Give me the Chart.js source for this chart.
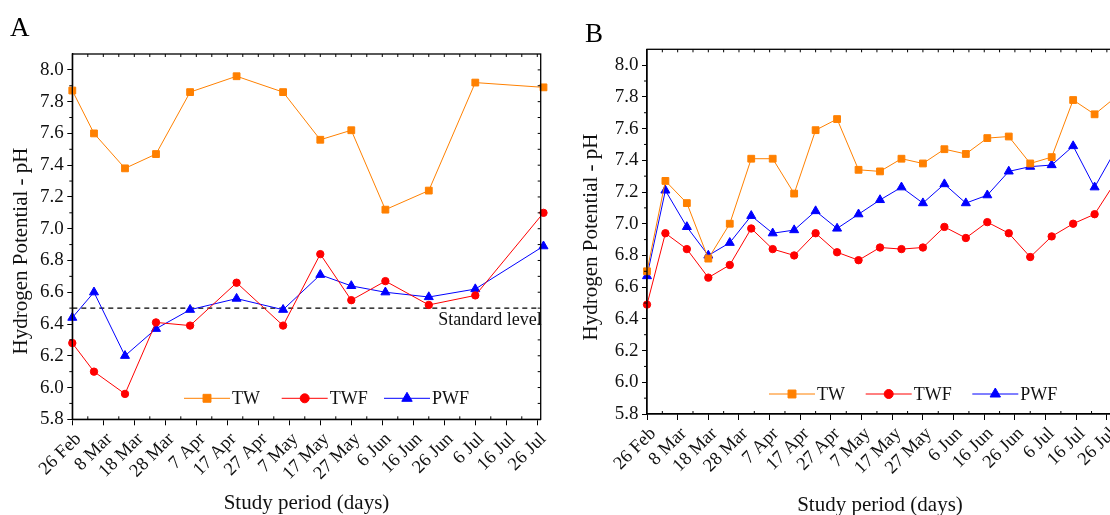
<!DOCTYPE html>
<html><head><meta charset="utf-8">
<script src="https://cdn.jsdelivr.net/npm/chart.js@4.4.1/dist/chart.umd.min.js"></script>
<style>
html,body{margin:0;padding:0;background:#fff;overflow:hidden;width:1110px;height:515px;position:relative;}
.p{position:absolute;top:0;height:515px;}
#wa{left:0;}
#wb{left:565px;}
</style></head><body>
<div class="p" id="wa"><canvas id="ca" width="560" height="515"></canvas></div>
<div class="p" id="wb"><canvas id="cb" width="566" height="515"></canvas></div>
<script>
// ---------- data ----------
const dateTickLabels = ['26 Feb','8 Mar','18 Mar','28 Mar','7 Apr','17 Apr','27 Apr','7 May','17 May','27 May','6 Jun','16 Jun','26 Jun','6 Jul','16 Jul','26 Jul'];
const xTickDays = [0,10,20,30,40,50,60,70,80,90,100,110,120,130,140,150];
const yTicks = [5.8,6.0,6.2,6.4,6.6,6.8,7.0,7.2,7.4,7.6,7.8,8.0];
const yMin = 5.8, yMax = 8.1;
const standardLevel = 6.5;

// Panel A (days after 26 Feb)
const aDays = [0,7,17,27,38,53,68,80,90,101,115,130,152];
const aTW  = [7.87,7.60,7.38,7.47,7.86,7.96,7.86,7.56,7.62,7.12,7.24,7.92,7.89];
const aTWF = [6.28,6.10,5.96,6.41,6.39,6.66,6.39,6.84,6.55,6.67,6.52,6.58,7.10];
const aPWF = [6.44,6.60,6.20,6.37,6.49,6.56,6.49,6.71,6.64,6.60,6.57,6.62,6.89];

// Panel B (days after 26 Feb)
const bDays = [0,6,13,20,27,34,41,48,55,62,69,76,83,90,97,104,111,118,125,132,139,146,153];
const bTW  = [6.70,7.27,7.13,6.78,7.00,7.41,7.41,7.19,7.59,7.66,7.34,7.33,7.41,7.38,7.47,7.44,7.54,7.55,7.38,7.42,7.78,7.69,7.80];
const bTWF = [6.49,6.94,6.84,6.66,6.74,6.97,6.84,6.80,6.94,6.82,6.77,6.85,6.84,6.85,6.98,6.91,7.01,6.94,6.79,6.92,7.00,7.06,7.27];
const bPWF = [6.67,7.21,6.98,6.80,6.88,7.05,6.94,6.96,7.08,6.97,7.06,7.15,7.23,7.13,7.25,7.13,7.18,7.33,7.36,7.37,7.49,7.23,7.47];

// ---------- styles ----------
const FONT = 'Liberation Serif, Times New Roman, serif';
const COLORS = {TW:'#FF8000', TWF:'#FF0000', PWF:'#0000FF'};
const STYLES = {TW:['rect',4.8], TWF:['circle',3.7], PWF:['triangle',5.2]};

function series(name, days, vals){
  return {
    label:name, isSeries:true,
    data: days.map((d,i)=>({x:d, y:vals[i]})),
    borderColor:COLORS[name], backgroundColor:COLORS[name], borderWidth:1,
    pointStyle:STYLES[name][0], pointRadius:STYLES[name][1], pointBorderWidth:1,
    pointBorderColor:COLORS[name], pointBackgroundColor:COLORS[name],
    tension:0, clip:false
  };
}

function drawMarker(ctx, style, r, x, y){
  if (Chart.helpers && Chart.helpers.drawPoint) {
    Chart.helpers.drawPoint(ctx, {pointStyle:style, radius:r, rotation:0, borderWidth:1}, x, y);
    return;
  }
  ctx.beginPath(); ctx.arc(x,y,r,0,Math.PI*2); ctx.fill(); ctx.stroke();
}

const panelPlugin = {
  id:'panel',
  afterDraw(chart, args, o){
    const {ctx, chartArea:ca} = chart;
    const xs = chart.scales.x, ys = chart.scales.y;
    ctx.save();
    // frame
    ctx.strokeStyle='#000'; ctx.lineWidth=1.3;
    ctx.strokeRect(ca.left, ca.top, ca.right-ca.left, ca.bottom-ca.top);
    ctx.lineWidth=1;
    ctx.beginPath();
    const yMinor = yTicks.map(v=>+(v+0.1).toFixed(1)).filter(v=>v<yMax);
    yMinor.forEach(v=>{const p=ys.getPixelForValue(v); ctx.moveTo(ca.left,p); ctx.lineTo(ca.left-3,p);});
    yTicks.concat(yMinor).forEach(v=>{ if(v<=yMin) return; const p=ys.getPixelForValue(v); ctx.moveTo(ca.right,p); ctx.lineTo(ca.right-3,p);});
    xTickDays.forEach(d=>{
      [d, d+5].forEach(v=>{ if(v<=0||v>=xs.max) return; const p=xs.getPixelForValue(v); ctx.moveTo(p,ca.top); ctx.lineTo(p,ca.top+3);});
      const m=d+5; if(m<xs.max){const p=xs.getPixelForValue(m); ctx.moveTo(p,ca.bottom); ctx.lineTo(p,ca.bottom-3);}
    });
    ctx.stroke();

    // standard level text
    if (o.standardText){
      ctx.fillStyle='#111'; ctx.font='18px '+FONT; ctx.textAlign='right'; ctx.textBaseline='alphabetic';
      ctx.fillText(o.standardText, ca.right+1, ys.getPixelForValue(standardLevel)+17);
    }

    // legend
    const ly = ca.bottom - o.legendDy;
    const sers = chart.data.datasets.filter(d=>d.isSeries);
    sers.forEach((d,i)=>{
      const x0 = ca.left + o.legendX[i];
      ctx.strokeStyle=d.borderColor; ctx.lineWidth=1;
      ctx.beginPath(); ctx.moveTo(x0,ly); ctx.lineTo(x0+46,ly); ctx.stroke();
      ctx.fillStyle=d.pointBackgroundColor; ctx.strokeStyle=d.pointBorderColor;
      drawMarker(ctx, d.pointStyle, d.pointRadius+0.8, x0+23, ly);
      ctx.fillStyle='#111'; ctx.font='18px '+FONT; ctx.textAlign='left'; ctx.textBaseline='middle';
      ctx.fillText(d.label, x0+48, ly+1);
    });

    // axis titles
    ctx.fillStyle='#111'; ctx.font='21px '+FONT; ctx.textAlign='center'; ctx.textBaseline='alphabetic';
    ctx.fillText(o.xTitle, (ca.left+ca.right)/2, o.xTitleBaseline);
    ctx.save();
    ctx.translate(o.yTitleX, o.yTitleCy); ctx.rotate(-Math.PI/2);
    ctx.fillText(o.yTitle, 0, 0);
    ctx.restore();

    // panel letter
    ctx.font='27px '+FONT; ctx.textAlign='left'; ctx.fillStyle='#000';
    ctx.fillText(o.letter, o.letterX, o.letterY);
    ctx.restore();
  }
};

function makeChart(id, days, tw, twf, pwf, g){
  const datasets = [series('TW',days,tw), series('TWF',days,twf), series('PWF',days,pwf)];
  if (g.standard) datasets.push({label:'Standard level', data:[{x:0,y:standardLevel},{x:g.xMax,y:standardLevel}],
     borderColor:'#000', borderWidth:1.2, borderDash:[5,4], pointRadius:0, clip:false});
  return new Chart(document.getElementById(id), {
    type:'line',
    data:{datasets},
    plugins:[panelPlugin],
    options:{
      responsive:false, animation:false, devicePixelRatio:1, events:[],
      layout:{padding:{left:0, top:g.padTop, right:g.padRight, bottom:0}},
      plugins:{
        legend:{display:false}, tooltip:{enabled:false},
        panel:{legendX:g.legendX, legendDy:g.legendDy, standardText:g.standard?'Standard level':null,
               xTitle:'Study period (days)', yTitle:'Hydrogen Potential - pH',
               xTitleBaseline:g.xTitleBaseline, yTitleX:g.yTitleX, yTitleCy:g.yTitleCy,
               letter:g.letter, letterX:g.letterX, letterY:g.letterY}
      },
      scales:{
        x:{type:'linear', min:0, max:g.xMax,
           afterFit:s=>{s.height=g.xH; s.paddingLeft=0; s.paddingRight=0;},
           afterBuildTicks:s=>{s.ticks = xTickDays.map(v=>({value:v}));},
           border:{color:'#000', width:1.3},
           grid:{drawOnChartArea:false, drawTicks:true, tickLength:6, color:'#000', lineWidth:1},
           ticks:{autoSkip:false, maxRotation:45, minRotation:45, padding:3, labelOffset:6,
                  color:'#111', font:{family:FONT, size:18.5},
                  callback:(v)=>dateTickLabels[xTickDays.indexOf(v)]}},
        y:{type:'linear', min:yMin, max:yMax,
           afterFit:s=>{s.width=g.yW; s.paddingTop=0; s.paddingBottom=0;},
           afterBuildTicks:s=>{s.ticks = yTicks.map(v=>({value:v}));},
           border:{color:'#000', width:1.3},
           grid:{drawOnChartArea:false, drawTicks:true, tickLength:5, color:'#000', lineWidth:1},
           ticks:{padding:3.5, color:'#111', font:{family:FONT, size:19},
                  callback:(v)=>v.toFixed(1)}}
      }
    }
  });
}

makeChart('ca', aDays, aTW, aTWF, aPWF, {padTop:54, padRight:19.3, yW:72.3, xH:95.7, xMax:151.1,
  legendX:[111.7,209.4,311.7], legendDy:21, standard:true, xTitleBaseline:509, yTitleX:27, yTitleCy:251,
  letter:'A', letterX:10, letterY:36});
makeChart('cb', bDays, bTW, bTWF, bPWF, {padTop:49.3, padRight:18, yW:82, xH:101, xMax:152,
  legendX:[122,218.7,325.3], legendDy:20, standard:false, xTitleBaseline:511, yTitleX:32, yTitleCy:237,
  letter:'B', letterX:20, letterY:42});
</script>
</body></html>
